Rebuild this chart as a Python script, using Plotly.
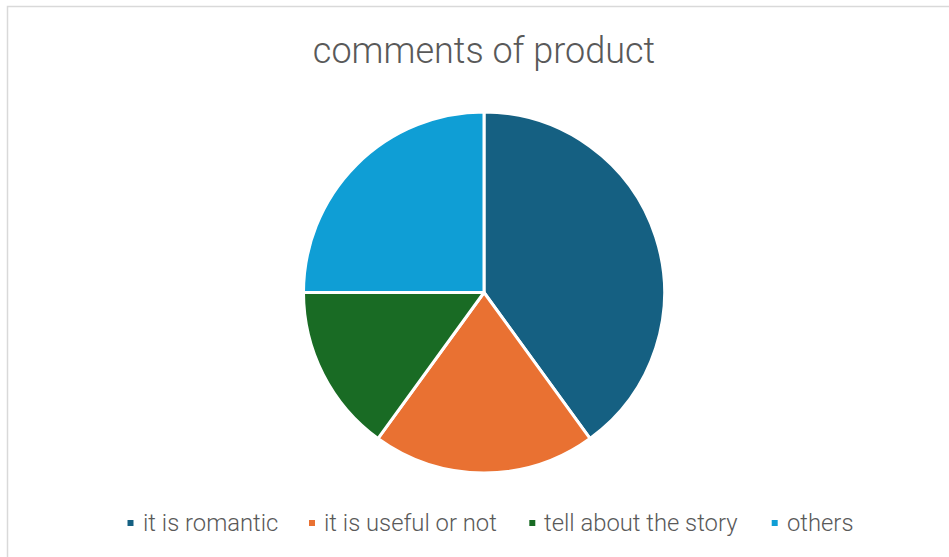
import plotly.graph_objects as go

# Share of product comments by theme
categories = ["it is romantic", "it is useful or not", "tell about the story", "others"]
shares = [40, 20, 15, 25]
colors = ["#156082", "#E97132", "#196B24", "#0F9ED5"]

W, H = 949, 557
cx, cy, r = 484, 292.5, 180.5
TEXT_COLOR = "#595959"

fig = go.Figure(
    go.Pie(
        labels=categories,
        values=shares,
        sort=False,
        direction="clockwise",
        rotation=0,
        textinfo="none",
        hoverinfo="label+percent",
        showlegend=False,
        marker=dict(colors=colors, line=dict(color="white", width=3)),
        domain=dict(
            x=[(cx - r) / W, (cx + r) / W],
            y=[1 - (cy + r) / H, 1 - (cy - r) / H],
        ),
    )
)

# Bottom legend: small square swatch followed by the label
legend_swatch_x = [130.5, 312, 532.3, 774.7]
legend_y = 523
swatch = 6
annotations = []
shapes = [
    # light frame around the chart area
    dict(
        type="rect",
        xref="paper",
        yref="paper",
        x0=7.5 / W,
        x1=1.02,
        y0=-0.02,
        y1=1 - 6.5 / H,
        line=dict(color="#D9D9D9", width=1.5),
        fillcolor="rgba(0,0,0,0)",
        layer="below",
    )
]
for name, col, sx in zip(categories, colors, legend_swatch_x):
    shapes.append(
        dict(
            type="rect",
            xref="paper",
            yref="paper",
            x0=(sx - swatch / 2) / W,
            x1=(sx + swatch / 2) / W,
            y0=1 - (legend_y + swatch / 2) / H,
            y1=1 - (legend_y - swatch / 2) / H,
            line=dict(width=0),
            fillcolor=col,
        )
    )
    annotations.append(
        dict(
            text=name,
            xref="paper",
            yref="paper",
            x=(sx + 10) / W,
            xanchor="left",
            y=1 - legend_y / H,
            yanchor="middle",
            showarrow=False,
            font=dict(family="Roboto", size=23.8, color=TEXT_COLOR, weight=300),
        )
    )

fig.update_layout(
    width=W,
    height=H,
    margin=dict(l=0, r=0, t=0, b=0),
    paper_bgcolor="white",
    title=dict(
        text="comments of product",
        x=484 / W,
        xanchor="center",
        y=1 - 50 / H,
        yanchor="middle",
        font=dict(family="Roboto", size=36, color=TEXT_COLOR, weight=300),
    ),
    shapes=shapes,
    annotations=annotations,
)

fig.write_html("out.html")
